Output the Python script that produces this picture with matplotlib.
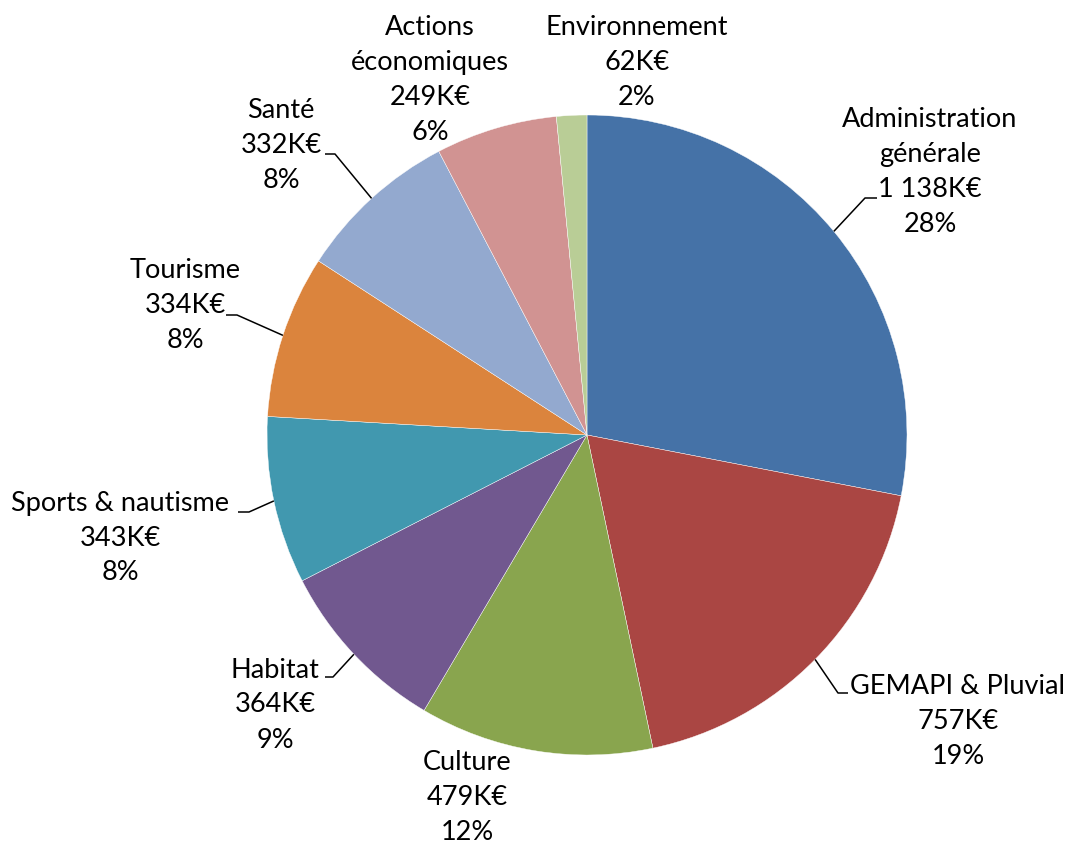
import matplotlib
matplotlib.use("Agg")
import matplotlib.pyplot as plt
import numpy as np

categories = ["Administration\ngénérale", "GEMAPI & Pluvial", "Culture", "Habitat",
              "Sports & nautisme", "Tourisme", "Santé", "Actions\néconomiques", "Environnement"]
values = [1138, 757, 479, 364, 343, 334, 332, 249, 62]
value_labels = ["1 138K€", "757K€", "479K€", "364K€", "343K€", "334K€", "332K€", "249K€", "62K€"]
colors = ["#4572A7", "#AA4643", "#89A54E", "#71588F", "#4198AF", "#DB843D", "#93A9CF", "#D19392", "#B9CD96"]

W, H = 1065, 847
fig = plt.figure(figsize=(W / 100, H / 100), dpi=100)
ax = fig.add_axes([0, 0, 1, 1])

cx, cy, R = 587, H - 435, 320
wedges, _ = ax.pie(values, colors=colors, startangle=90, counterclock=False,
                   center=(cx, cy), radius=R, frame=True,
                   wedgeprops=dict(edgecolor="white", linewidth=0.3))
ax.set_xlim(0, W)
ax.set_ylim(0, H)
ax.set_aspect("equal")
ax.axis("off")

total = sum(values)
# label text centres (pixel coords from top) and leader elbow (x_text_side, x_elbow, y)
label_pos = [(930, 172), (958, 721), (467, 797), (275, 705), (120, 538),
             (185, 305), (281, 145), (430, 80), (637, 62)]
leaders = [(877, 865, 198), (848, 838, 693), None, (325, 333, 677), (238, 249, 512),
           (226, 237, 315), (325, 335, 154), None, None]

font = dict(family="Lato", size=19.5, color="black")
for i, (cat, v, vl) in enumerate(zip(categories, values, value_labels)):
    pct = round(100 * v / total)
    txt = f"{cat}\n{vl}\n{pct}%"
    x, y = label_pos[i]
    ax.text(x, H - y, txt, ha="center", va="center", linespacing=1.5, **font)
    if leaders[i] is not None:
        xa, xb, yl = leaders[i]
        w = wedges[i]
        mid = np.deg2rad((w.theta1 + w.theta2) / 2)
        ex, ey = cx + R * np.cos(mid), cy + R * np.sin(mid)
        ax.plot([xa, xb, ex], [H - yl, H - yl, ey], color="black", lw=1.1,
                solid_capstyle="butt")

fig.savefig("out.png", dpi=100, facecolor="white")
